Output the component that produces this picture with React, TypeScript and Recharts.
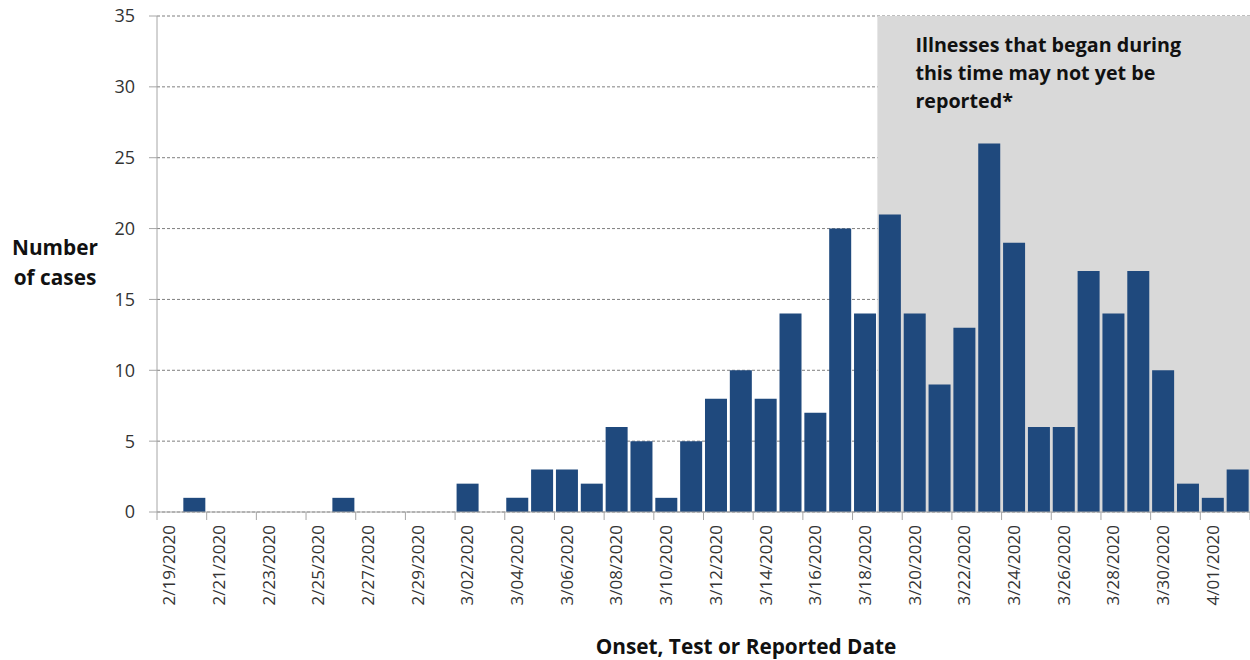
import { BarChart, Bar, XAxis, YAxis, CartesianGrid, ReferenceArea, Label } from 'recharts';

const dates = [
  '2/19/2020', '2/20/2020', '2/21/2020', '2/22/2020', '2/23/2020', '2/24/2020',
  '2/25/2020', '2/26/2020', '2/27/2020', '2/28/2020', '2/29/2020',
  '3/01/2020', '3/02/2020', '3/03/2020', '3/04/2020', '3/05/2020', '3/06/2020',
  '3/07/2020', '3/08/2020', '3/09/2020', '3/10/2020', '3/11/2020', '3/12/2020',
  '3/13/2020', '3/14/2020', '3/15/2020', '3/16/2020', '3/17/2020', '3/18/2020',
  '3/19/2020', '3/20/2020', '3/21/2020', '3/22/2020', '3/23/2020', '3/24/2020',
  '3/25/2020', '3/26/2020', '3/27/2020', '3/28/2020', '3/29/2020', '3/30/2020',
  '3/31/2020', '4/01/2020', '4/02/2020',
];

const cases = [
  0, 1, 0, 0, 0, 0, 0, 1, 0, 0, 0,
  0, 2, 0, 1, 3, 3, 2, 6, 5, 1, 5, 8, 10, 8, 14, 7, 20, 14,
  21, 14, 9, 13, 26, 19, 6, 6, 17, 14, 17, 10, 2, 1, 3,
];

const yTicks = [0, 5, 10, 15, 20, 25, 30, 35];

const data = dates.map((d, i) => ({ date: d, cases: cases[i] }));

const W = 1250;
const H = 660;
const LEFT = 157;
const BW = (W - LEFT) / dates.length;
const AXIS = '#a6a6a6';
const TEXT = '#333';
const FONT = '"Open Sans", sans-serif';

const XTick = (props: any) => {
  const { x, y, payload } = props;
  const left = x - BW / 2;
  const ty = y + 13;
  return (
    <g>
      <line x1={left} y1={y} x2={left} y2={y + 8} stroke={AXIS} />
      {payload.value === '4/01/2020' && (
        <line x1={x + BW * 1.5} y1={y} x2={x + BW * 1.5} y2={y + 8} stroke={AXIS} />
      )}
      <text
        x={x}
        y={ty}
        transform={`rotate(-90 ${x} ${ty})`}
        textAnchor="end"
        dy="0.35em"
        fontSize={17}
        fontFamily={FONT}
        fill={TEXT}
      >
        {payload.value}
      </text>
    </g>
  );
};

const note = (props: any) => {
  const { viewBox } = props;
  const x = viewBox.x + 38;
  const y = viewBox.y + 36;
  return (
    <text x={x} y={y} fontSize={19.7} fontWeight="bold" fontFamily={FONT} fill="#111">
      <tspan x={x} y={y}>Illnesses that began during</tspan>
      <tspan x={x} y={y + 28}>this time may not yet be</tspan>
      <tspan x={x} y={y + 56}>reported*</tspan>
    </text>
  );
};

export default function App() {
  return (
    <div style={{ position: 'absolute', left: 0, top: 0 }}>
      <BarChart
        width={W}
        height={H}
        data={data}
        margin={{ top: 16, right: 0, bottom: 0, left: 0 }}
        barCategoryGap="6%"
      >
        <CartesianGrid vertical={false} stroke="#7f7f7f" strokeDasharray="3 2" />
        <ReferenceArea x1="3/19/2020" x2="4/02/2020" fill="#d9d9d9" fillOpacity={1} stroke="none" label={note} />
        <XAxis
          dataKey="date"
          interval={1}
          height={H - 16 - 496}
          tickSize={0}
          tickMargin={0}
          tickLine={false}
          axisLine={{ stroke: AXIS }}
          tick={<XTick />}
        >
          <Label
            content={() => (
              <text x={746} y={654} textAnchor="middle" fontSize={20.8} fontWeight="bold" fontFamily={FONT} fill="#111">
                Onset, Test or Reported Date
              </text>
            )}
          />
        </XAxis>
        <YAxis
          width={LEFT}
          domain={[0, 35]}
          ticks={yTicks}
          interval={0}
          tickSize={8}
          tickMargin={14}
          axisLine={{ stroke: AXIS }}
          tickLine={{ stroke: AXIS }}
          tick={{ fontSize: 18, fill: TEXT, fontFamily: FONT }}
        >
          <Label
            content={() => (
              <text x={55} y={255} textAnchor="middle" fontSize={20.8} fontWeight="bold" fontFamily={FONT} fill="#111">
                <tspan x={55} y={255}>Number</tspan>
                <tspan x={55} y={285}>of cases</tspan>
              </text>
            )}
          />
        </YAxis>
        <Bar dataKey="cases" fill="#1f497d" isAnimationActive={false} />
      </BarChart>
    </div>
  );
}
